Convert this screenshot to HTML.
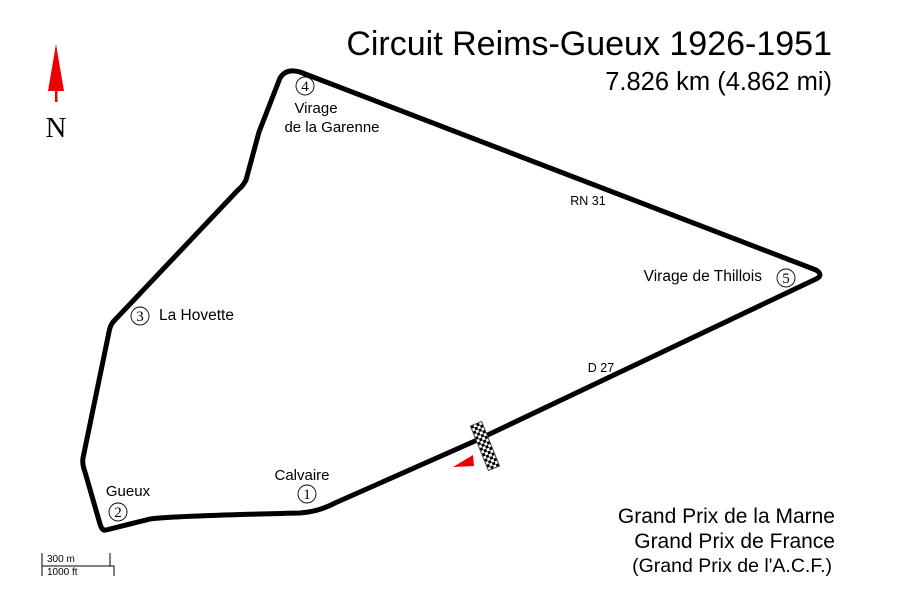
<!DOCTYPE html>
<html><head><meta charset="utf-8"><style>
body{margin:0;background:#fff}
svg{display:block}
text{font-family:"Liberation Sans",sans-serif}
.n{font-family:"Liberation Serif",serif;font-size:15px}
</style></head><body>
<svg width="900" height="600" viewBox="0 0 900 600">
<defs>
<pattern id="chk" width="6" height="6" patternUnits="userSpaceOnUse">
<rect width="6" height="6" fill="#fff"/><rect width="3" height="3" fill="#000"/><rect x="3" y="3" width="3" height="3" fill="#000"/>
</pattern>
</defs>
<path d="M106,530 L150,519 Q170,516 300,513 Q318,512 335,503 L475,441 L816,279 Q824,275 816,270 L300,72 Q286,68 280,78 L259,132 Q252,158 246,180 Q243,186 238,190 L113,322 Q110,326 109,332 L83,458 Q82,464 85,472 L100,524 Q102,531 106,530 Z" fill="none" stroke="#000" stroke-width="5" stroke-linejoin="round"/>
<g transform="translate(485,446) rotate(-22)">
<rect x="-6" y="-24" width="12" height="48" fill="url(#chk)" stroke="#444" stroke-width="1"/>
</g>
<polygon points="453,467 473,455 474,466" fill="#e00"/>
<polygon points="56,44 48,91 64,91" fill="#e00"/>
<rect x="55" y="90" width="2.5" height="12" fill="#e00"/>
<text x="56" y="137" text-anchor="middle" style="font-family:'Liberation Serif',serif;font-size:29px">N</text>
<text x="832" y="55" text-anchor="end" font-size="34">Circuit Reims-Gueux 1926-1951</text>
<text x="832" y="90" text-anchor="end" font-size="25.5">7.826 km (4.862 mi)</text>
<text x="835" y="523" text-anchor="end" font-size="21">Grand Prix de la Marne</text>
<text x="835" y="548" text-anchor="end" font-size="21">Grand Prix de France</text>
<text x="832" y="572" text-anchor="end" font-size="19.5">(Grand Prix de l'A.C.F.)</text>
<text x="316" y="113" text-anchor="middle" font-size="15">Virage</text>
<text x="332" y="132" text-anchor="middle" font-size="15">de la Garenne</text>
<text x="588" y="205" text-anchor="middle" font-size="12.5">RN 31</text>
<text x="762" y="281" text-anchor="end" font-size="15.5">Virage de Thillois</text>
<text x="601" y="372" text-anchor="middle" font-size="12.5">D 27</text>
<text x="159" y="320" font-size="15.5">La Hovette</text>
<text x="302" y="480" text-anchor="middle" font-size="15">Calvaire</text>
<text x="128" y="496" text-anchor="middle" font-size="15">Gueux</text>
<g fill="none" stroke="#000" stroke-width="0.9">
<circle cx="305" cy="86" r="9"/><circle cx="786" cy="278" r="9"/><circle cx="140" cy="316" r="9"/><circle cx="307" cy="494" r="9"/><circle cx="118" cy="512" r="9"/>
</g>
<g text-anchor="middle" class="n">
<text x="305" y="91" class="n">4</text><text x="786" y="283" class="n">5</text><text x="140" y="321" class="n">3</text><text x="307" y="499" class="n">1</text><text x="118" y="517" class="n">2</text>
</g>
<path d="M42,553 V566 H114 V576 M42,566 V576 M110,553 V566" fill="none" stroke="#000" stroke-width="1"/>
<text x="47" y="562" font-size="10">300 m</text>
<text x="47" y="575" font-size="10">1000 ft</text>
</svg>
</body></html>
